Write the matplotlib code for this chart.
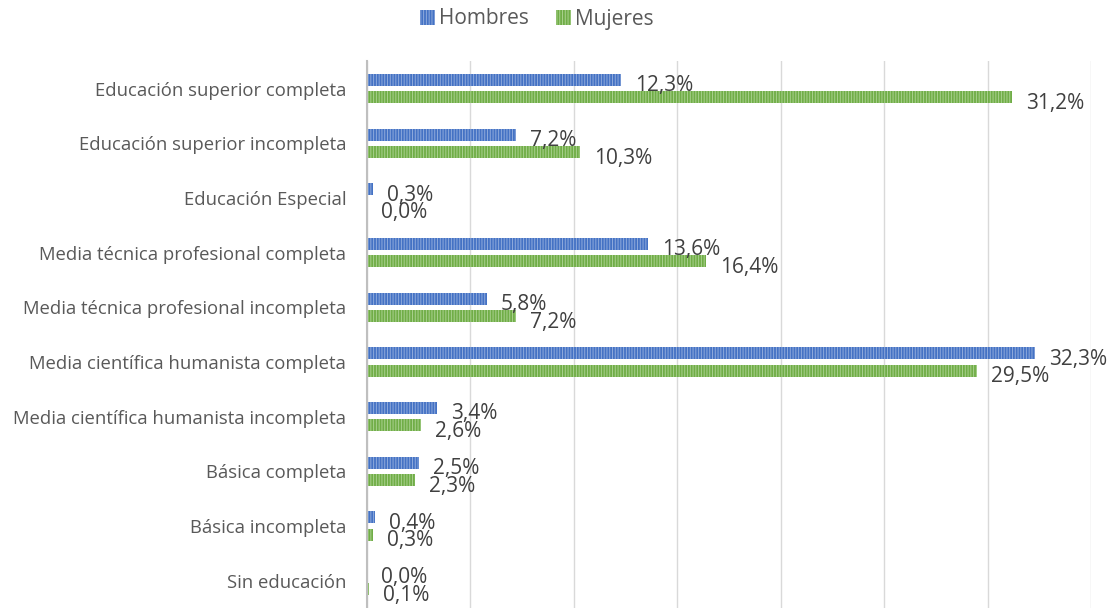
import matplotlib
matplotlib.use("Agg")
import matplotlib.pyplot as plt
import numpy as np

categories = [
    "Educación superior completa",
    "Educación superior incompleta",
    "Educación Especial",
    "Media técnica profesional completa",
    "Media técnica profesional incompleta",
    "Media científica humanista completa",
    "Media científica humanista incompleta",
    "Básica completa",
    "Básica incompleta",
    "Sin educación",
]
hombres = [12.3, 7.2, 0.3, 13.6, 5.8, 32.3, 3.4, 2.5, 0.4, 0.0]
mujeres = [31.2, 10.3, 0.0, 16.4, 7.2, 29.5, 2.6, 2.3, 0.3, 0.1]
series_names = ["Hombres", "Mujeres"]

plt.rcParams['font.family'] = ['Open Sans', 'DejaVu Sans']
plt.rcParams['hatch.linewidth'] = 0.7

fig = plt.figure(figsize=(11.15, 6.08), dpi=100)
ax = fig.add_axes([367/1115, 0.0, (1091-367)/1115, 0.899])

n = len(categories)
y = np.arange(n)
h = 0.22
off = 0.16
blue, blue_h = "#4472c4", "#8faadc"
green, green_h = "#70ad47", "#a9d18e"

hatch = "|" * 6
b1 = ax.barh(y - off, hombres, height=h, color=blue, edgecolor=blue_h,
             hatch=hatch, linewidth=0, label=series_names[0], zorder=3)
b2 = ax.barh(y + off, mujeres, height=h, color=green, edgecolor=green_h,
             hatch=hatch, linewidth=0, label=series_names[1], zorder=3)

def fmt(v):
    return f"{v:.1f}%".replace(".", ",")

for bars, vals in ((b1, hombres), (b2, mujeres)):
    for rect, v in zip(bars, vals):
        ax.annotate(fmt(v), (rect.get_width(), rect.get_y() + rect.get_height()/2),
                    xytext=(14, -6), textcoords="offset pixels",
                    ha="left", va="center", fontsize=15, color="#404040",
                    zorder=5)

ax.set_xlim(0, 35)
ax.set_ylim(n - 0.5, -0.5)
ax.set_xticks(np.arange(0, 36, 5))
ax.set_xticklabels([])
ax.tick_params(axis="x", length=0)
ax.tick_params(axis="y", length=0, pad=15, labelsize=13.3, labelcolor="#595959")
ax.set_yticks(y)
ax.set_yticklabels(categories)
ax.grid(axis="x", color="#d9d9d9", linewidth=1, zorder=0)
for s in ["top", "right", "bottom"]:
    ax.spines[s].set_visible(False)
ax.spines["left"].set_color("#bfbfbf")
ax.spines["left"].set_linewidth(1.5)
ax.spines["left"].set_zorder(4)

leg = fig.legend(handles=[b1, b2], labels=series_names, loc="center",
                 bbox_to_anchor=(537/1115, 1 - 19/608), ncol=2, frameon=False,
                 fontsize=15, handlelength=0.7, handleheight=0.7,
                 handletextpad=0.2, columnspacing=1.3)
for t in leg.get_texts():
    t.set_color("#595959")

fig.savefig("out.png", dpi=100)
